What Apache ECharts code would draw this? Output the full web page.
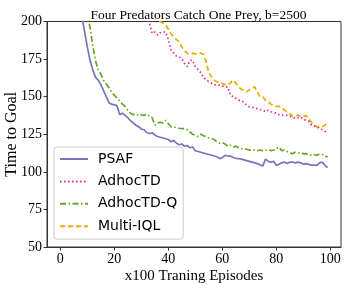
<!DOCTYPE html>
<html>
<head>
<meta charset="utf-8">
<script src="https://cdn.jsdelivr.net/npm/echarts@6/dist/echarts.min.js"></script>
<style>
html,body{margin:0;padding:0;background:#fff;}
#chart{width:346px;height:291px;}
</style>
</head>
<body>
<div id="chart"></div>
<script>
// ---- data (x = index 0..99, in units of x100 training episodes) ----
const seriesNames = ['PSAF', 'AdhocTD', 'AdhocTD-Q', 'Multi-IQL'];
const xTicks = [0, 20, 40, 60, 80, 100];
const yTicks = [50, 75, 100, 125, 150, 175, 200];

const psaf = [
  310, 290, 272, 258, 245, 233, 222, 212, 203, 193,
  183, 174, 168, 163, 161, 158, 154, 150, 146, 145,
  144.5, 144, 138, 139, 137.5, 136, 134, 132.5, 131, 130,
  128.5, 128, 126, 125.5, 126, 124.5, 123.5, 123, 122.5, 122,
  121.5, 120, 121, 119, 118, 118.5, 117, 117.5, 116, 116.5,
  114, 113.5, 113, 112.5, 112, 111.5, 111, 110.5, 110, 108.8,
  109.5, 111, 110.5, 110.5, 109.5, 109, 108.8, 108.5, 108, 107.5,
  107, 106.5, 106, 105.5, 104.5, 104, 108.5, 107, 106.5, 107,
  104.3, 105, 106, 106.5, 105.5, 106.5, 106.5, 106, 106.5, 106,
  105, 105.5, 105, 104.5, 104.5, 104.3, 106, 106.5, 104.5, 102.8
];

const adhocTD = [
  385, 378, 371, 362, 356, 348, 341, 335, 327, 320,
  313, 305, 299, 292, 286, 279, 273, 267, 261, 255,
  250, 244, 239, 234, 229, 225, 220, 216, 212, 209,
  206, 203, 201, 199, 192, 193, 191, 192.5, 193, 193,
  188, 181, 179, 177, 176.5, 175.5, 172, 170, 174, 174.3,
  170, 168, 166, 163, 161, 160, 159, 158, 157.5, 157.7,
  157, 156.5, 156.5, 151, 150, 149, 147.7, 147.5, 146, 144.5,
  143.2, 143, 142.5, 142, 141.5, 141, 140, 141, 140, 139.5,
  139, 138, 137.7, 137.5, 137.5, 137, 136.5, 135.5, 136, 136.5,
  135, 134.3, 133.5, 131, 130.5, 130, 128.8, 128, 127, 126.3
];

const adhocTDQ = [
  330, 310, 292, 275, 260, 248, 237, 227, 218, 210,
  204, 196, 184, 174, 168, 165, 161, 158.5, 156, 153,
  151, 149, 147, 145, 143.5, 141, 139, 138, 138.5, 137.5,
  138, 137.5, 138.5, 137, 136, 131, 132.5, 133, 132.5, 134.3,
  132, 130, 129.9, 129.5, 129, 128.8, 128.8, 128, 126.5, 125,
  124.3, 123.5, 125, 124, 123.5, 122.5, 122, 121.5, 120, 119,
  119.5, 118.5, 117, 117.7, 116.5, 117, 116, 115.5, 115.5, 115,
  114.5, 114.3, 114.5, 114, 114.5, 114, 114.3, 115, 114, 114.5,
  115.5, 116.5, 114, 114.5, 113.5, 112.5, 112.1, 113, 112.5, 113,
  112, 112.1, 111.5, 111, 111.5, 111, 112, 111.5, 110.5, 109.9
];

const multiIQL = [
  395, 388, 380, 372, 365, 357, 350, 343, 336, 329,
  322, 315, 309, 302, 296, 290, 284, 278, 272, 266,
  261, 255, 250, 245, 240, 236, 231, 227, 223, 219,
  215, 212, 209, 206, 204, 202, 201, 200, 199, 197.7,
  195, 192, 189.5, 188, 186.5, 183, 180.5, 178.8, 178.5, 178.8,
  178.5, 178.8, 179, 178, 173, 166, 163, 161, 160, 159,
  158.8, 158, 157.7, 159, 161, 159, 156.5, 155, 154, 153.2,
  154.5, 155.5, 156.5, 153, 150, 149.9, 147.5, 146.5, 145, 144.3,
  143.6, 143.6, 143, 141, 139.9, 138.5, 137, 137.2, 137.7, 137,
  136.5, 137.5, 135, 133, 131, 130, 129.9, 130, 131, 133.2
];

const colors = ['#7a75bb', '#e7298a', '#66a61e', '#e6ab02'];

function pairs(vals) { return vals.map((v, i) => [i, v]); }

const serif = 'Liberation Serif';
const chart = echarts.init(document.getElementById('chart'), null, {renderer: 'canvas'});

const lineStyles = [
  {width: 1.7, type: 'solid'},
  {width: 1.7, type: [1.5, 2.5]},
  {width: 1.7, type: [6, 2.5, 1.5, 2.5]},
  {width: 1.7, type: [5, 3]}
];
const dataSets = [psaf, adhocTD, adhocTDQ, multiIQL];

chart.setOption({
  animation: false,
  backgroundColor: '#fff',
  title: {
    text: 'Four Predators Catch One Prey, b=2500',
    left: 193.5, top: 3, textAlign: 'center',
    textStyle: {fontFamily: serif, fontSize: 13.5, fontWeight: 'normal', color: '#000'}
  },
  grid: {
    left: 47, right: 5, top: 21.5, bottom: 44,
    outerBoundsMode: 'none', containLabel: false,
    show: true, borderColor: '#333', borderWidth: 1, backgroundColor: 'transparent'
  },
  legend: {
    orient: 'vertical', left: 54, top: 147,
    padding: [5, 6, 6, 5],
    itemWidth: 28, itemHeight: 14, itemGap: 8.4,
    itemStyle: {color: 'rgba(0,0,0,0)', borderWidth: 0, opacity: 0},
    backgroundColor: 'rgba(255,255,255,0.85)', borderColor: '#ccc', borderWidth: 1, borderRadius: 3,
    textStyle: {fontFamily: 'DejaVu Sans', fontSize: 14, color: '#000', padding: [0, 0, 0, 5]},
    data: seriesNames
  },
  xAxis: {
    type: 'value', min: -4.95, max: 103.95,
    name: 'x100 Traning Episodes', nameLocation: 'middle', nameGap: 22, nameMoveOverlap: false,
    nameTextStyle: {fontFamily: serif, fontSize: 15, color: '#000'},
    axisLine: {show: true, onZero: false, lineStyle: {color: '#333', width: 1}},
    axisTick: {show: true, length: 3.5, lineStyle: {color: '#333'}, customValues: xTicks},
    axisLabel: {fontFamily: serif, fontSize: 14, color: '#000', margin: 5, customValues: xTicks},
    splitLine: {show: false}
  },
  yAxis: {
    type: 'value', min: 50, max: 200, interval: 25,
    name: 'Time to Goal', nameLocation: 'middle', nameGap: 27, nameMoveOverlap: false,
    nameTextStyle: {fontFamily: serif, fontSize: 16, color: '#000'},
    axisLine: {show: true, onZero: false, lineStyle: {color: '#333', width: 1}},
    axisTick: {show: true, length: 3.5, lineStyle: {color: '#333'}},
    axisLabel: {fontFamily: serif, fontSize: 14, color: '#000', margin: 5},
    splitLine: {show: false}
  },
  series: seriesNames.map((name, k) => ({
    name: name,
    type: 'line',
    data: pairs(dataSets[k]),
    symbol: 'none',
    showSymbol: false,
    clip: true,
    color: colors[k],
    lineStyle: Object.assign({color: colors[k]}, lineStyles[k]),
    z: 10 - k
  }))
});
</script>
</body>
</html>
